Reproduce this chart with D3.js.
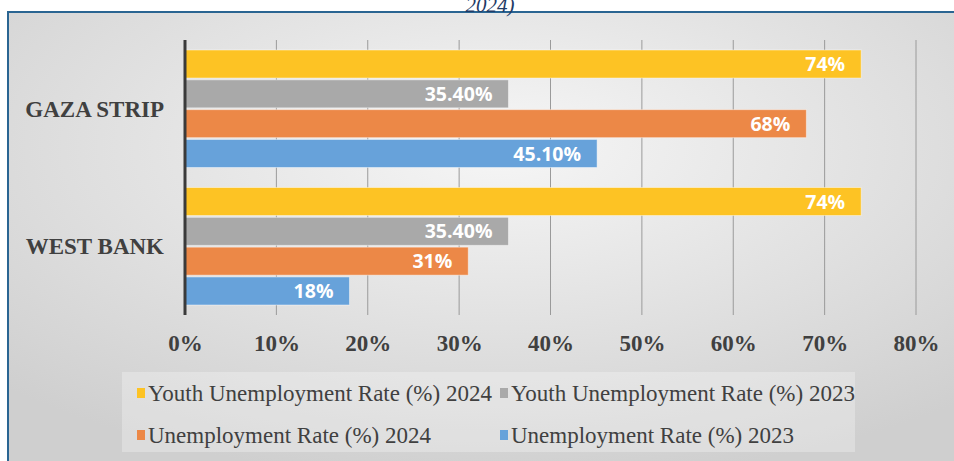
<!DOCTYPE html>
<html>
<head>
<meta charset="utf-8">
<script src="https://cdn.jsdelivr.net/npm/d3@7"></script>
<style>
  html, body { margin: 0; padding: 0; background: #fff; }
  svg { display: block; }
</style>
</head>
<body>
<div id="chart"></div>
<script>
// data
const regions = ["GAZA STRIP", "WEST BANK"];
const seriesNames = [
  "Youth Unemployment Rate (%) 2024",
  "Youth Unemployment Rate (%) 2023",
  "Unemployment Rate (%) 2024",
  "Unemployment Rate (%) 2023"
];
const youth2024 = [74, 74];
const youth2023 = [35.4, 35.4];
const unemp2024 = [68, 31];
const unemp2023 = [45.1, 18];
const valueLabels = [
  ["74%", "35.40%", "68%", "45.10%"],
  ["74%", "35.40%", "31%", "18%"]
];
const tickValues = [0, 10, 20, 30, 40, 50, 60, 70, 80];
const colors = ["#fdc324", "#a9a9a9", "#ec8847", "#67a2da"];

const W = 954, H = 461;
const svg = d3.select("#chart").append("svg")
  .attr("width", W)
  .attr("height", H);

// background gradient
let defs = svg.append("defs");
let grad = defs.append("radialGradient")
  .attr("id", "bg")
  .attr("cx", "52%").attr("cy", "30%").attr("r", "75%");
grad.append("stop").attr("offset", "0%").attr("stop-color", "#f6f6f6");
grad.append("stop").attr("offset", "100%").attr("stop-color", "#cfcfcf");

svg.append("rect")
  .attr("x", 8).attr("y", 12)
  .attr("width", W - 8).attr("height", H - 12)
  .attr("fill", "url(#bg)");

// frame lines (top and left)
svg.append("line")
  .attr("x1", 7).attr("x2", W).attr("y1", 12).attr("y2", 12)
  .attr("stroke", "#2a6592").attr("stroke-width", 2);
svg.append("line")
  .attr("x1", 8).attr("x2", 8).attr("y1", 11).attr("y2", H)
  .attr("stroke", "#2a6592").attr("stroke-width", 2);

// title remnant, cut at the top edge as in the source
svg.append("text")
  .attr("x", 490).attr("y", 12)
  .attr("text-anchor", "middle")
  .attr("font-family", "Liberation Serif")
  .attr("font-style", "italic")
  .attr("font-size", 21)
  .attr("fill", "#1f3b66")
  .text("2024)");

const x = d3.scaleLinear().domain([0, 80]).range([185, 916]);
const y = d3.scaleBand().domain(regions).range([40, 315]);
const inner = d3.scaleBand().domain(seriesNames)
  .range([10, y.bandwidth() - 10]).paddingInner(0.06);

// gridlines
svg.append("g")
  .selectAll("line")
  .data(tickValues.slice(1))
  .join("line")
  .attr("x1", d => x(d)).attr("x2", d => x(d))
  .attr("y1", 40).attr("y2", 315)
  .attr("stroke", "#9a9a9a")
  .attr("stroke-width", 1);

// bars
const table = regions.map((r, i) => ({
  region: r,
  values: [youth2024[i], youth2023[i], unemp2024[i], unemp2023[i]],
  labels: valueLabels[i]
}));

const groups = svg.append("g")
  .selectAll("g")
  .data(table)
  .join("g")
  .attr("transform", d => `translate(0,${y(d.region)})`);

groups.selectAll("rect")
  .data(d => d.values.map((v, j) => ({v: v, s: seriesNames[j], c: colors[j]})))
  .join("rect")
  .attr("x", x(0))
  .attr("y", d => inner(d.s))
  .attr("width", d => x(d.v) - x(0))
  .attr("height", inner.bandwidth())
  .attr("fill", d => d.c)
  .attr("stroke", "rgba(255,255,255,0.45)")
  .attr("stroke-width", 1);

groups.selectAll("text")
  .data(d => d.values.map((v, j) => ({v: v, s: seriesNames[j], t: d.labels[j]})))
  .join("text")
  .attr("x", d => x(d.v) - 16)
  .attr("y", d => inner(d.s) + inner.bandwidth() / 2)
  .attr("dy", "0.36em")
  .attr("text-anchor", "end")
  .attr("font-family", "Open Sans")
  .attr("font-weight", "bold")
  .attr("font-size", 19.5)
  .attr("fill", "#ffffff")
  .text(d => d.t);

// category axis line
svg.append("line")
  .attr("x1", x(0)).attr("x2", x(0))
  .attr("y1", 40).attr("y2", 315)
  .attr("stroke", "#3a3a3a")
  .attr("stroke-width", 3);

// category labels
svg.append("g")
  .selectAll("text")
  .data(regions)
  .join("text")
  .attr("x", 164)
  .attr("y", d => y(d) + y.bandwidth() / 2)
  .attr("dy", "0.35em")
  .attr("text-anchor", "end")
  .attr("font-family", "Liberation Serif")
  .attr("font-weight", "bold")
  .attr("font-size", 23)
  .attr("fill", "#404040")
  .text(d => d);

// x axis
const xAxis = svg.append("g")
  .attr("transform", "translate(0,315)")
  .call(d3.axisBottom(x)
    .tickValues(tickValues)
    .tickFormat(d => d + "%")
    .tickSize(0)
    .tickPadding(20));
xAxis.select(".domain").remove();
xAxis.selectAll("text")
  .attr("font-family", "Liberation Serif")
  .attr("font-weight", "bold")
  .attr("font-size", 23)
  .attr("fill", "#404040");

// legend
svg.append("rect")
  .attr("x", 122).attr("y", 372)
  .attr("width", 733).attr("height", 80)
  .attr("fill", "rgba(255,255,255,0.28)");

const legendPos = [
  {x: 137, y: 393}, {x: 500, y: 393},
  {x: 137, y: 435}, {x: 500, y: 435}
];
const legend = svg.append("g")
  .selectAll("g")
  .data(seriesNames)
  .join("g")
  .attr("transform", (d, i) => `translate(${legendPos[i].x},${legendPos[i].y})`);
legend.append("rect")
  .attr("x", 0).attr("y", -5)
  .attr("width", 8).attr("height", 10)
  .attr("fill", (d, i) => colors[i]);
legend.append("text")
  .attr("x", 11).attr("y", 0)
  .attr("dy", "0.35em")
  .attr("font-family", "Liberation Serif")
  .attr("font-size", 23)
  .attr("fill", "#404040")
  .text(d => d);
</script>
</body>
</html>
